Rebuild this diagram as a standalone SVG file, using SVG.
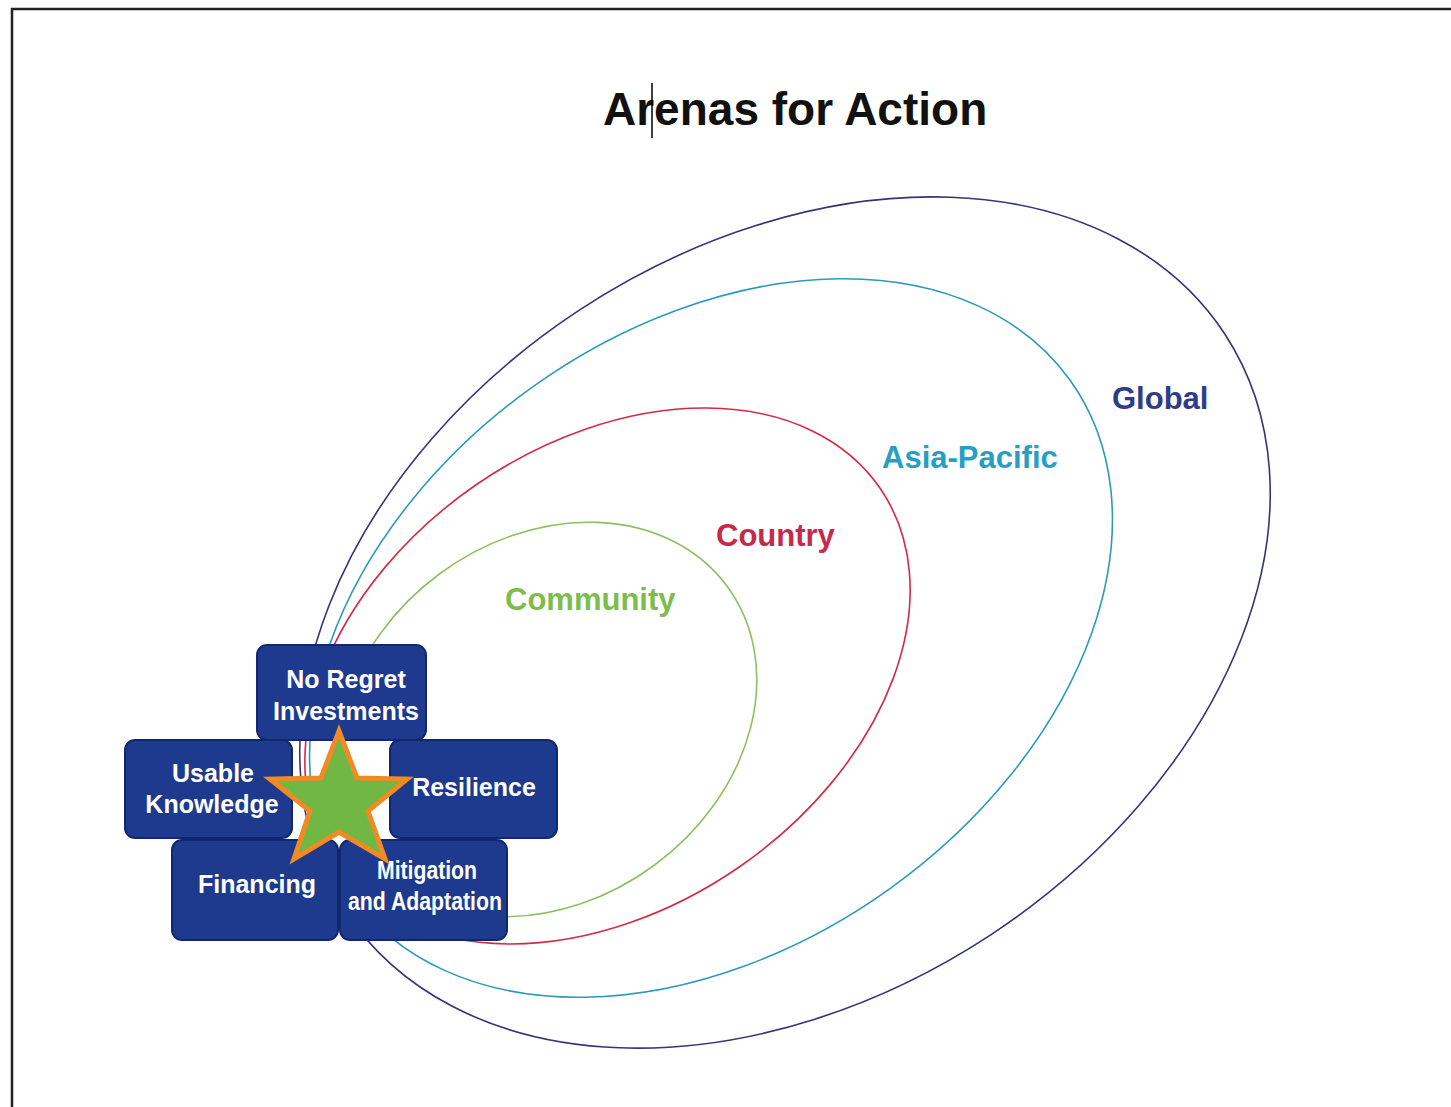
<svg xmlns="http://www.w3.org/2000/svg" width="1451" height="1107" viewBox="0 0 1451 1107">
  <style>
    .frame { fill: none; stroke: #222; stroke-width: 2.5; }
    .title { font-family: "Liberation Sans", Arial, sans-serif; font-weight: bold; font-size: 46px; fill: #111; }
    .arena { fill: none; stroke-width: 1.6; }
    .lbl { font-family: "Liberation Sans", Arial, sans-serif; font-weight: bold; font-size: 31px; }
    .box { fill: #1d3a8e; stroke: #12286e; stroke-width: 2; }
    .btxt { font-family: "Liberation Sans", Arial, sans-serif; font-weight: bold; font-size: 25px; fill: #fff; text-anchor: middle; }
    .star { fill: #70b843; stroke: #f08a24; stroke-width: 5; stroke-linejoin: miter; }
  </style>

  <rect width="1451" height="1107" fill="#fff"/>
  <rect class="frame" x="12" y="9" width="1500" height="1200"/>

  <!-- heading with caret -->
  <text class="title" x="603" y="125">Arenas for Action</text>
  <line x1="652" y1="83" x2="652" y2="138" stroke="#000" stroke-width="1.5"/>

  <!-- nested arenas -->
  <g id="arenas">
    <g id="global">
      <ellipse class="arena" stroke="#34347c" cx="785" cy="622.5" rx="526" ry="374" transform="rotate(-33.3 785 622.5)"/>
      <text class="lbl" fill="#2e3c8a" x="1112" y="409">Global</text>
    </g>
    <g id="asia-pacific">
      <ellipse class="arena" stroke="#2a9cb8" cx="711" cy="638" rx="442" ry="308" transform="rotate(-35.7 711 638)"/>
      <text class="lbl" fill="#279fc2" x="882" y="468">Asia-Pacific</text>
    </g>
    <g id="country">
      <ellipse class="arena" stroke="#d42a44" cx="607.5" cy="676" rx="331" ry="232" transform="rotate(-34.6 607.5 676)"/>
      <text class="lbl" fill="#c62a4a" x="716" y="546">Country</text>
    </g>
    <g id="community">
      <ellipse class="arena" stroke="#8cc063" cx="547" cy="719.5" rx="224" ry="181" transform="rotate(-36.5 547 719.5)"/>
      <text class="lbl" fill="#7dbd4c" x="505" y="610">Community</text>
    </g>
  </g>

  <!-- building blocks -->
  <g id="no-regret">
    <rect class="box" x="257" y="645" width="169" height="95" rx="10"/>
    <text class="btxt" x="346" y="688">No Regret</text>
    <text class="btxt" x="346" y="720">Investments</text>
  </g>
  <g id="usable-knowledge">
    <rect class="box" x="125" y="740" width="167" height="98" rx="10"/>
    <text class="btxt" x="213" y="782">Usable</text>
    <text class="btxt" x="212" y="813">Knowledge</text>
  </g>
  <g id="resilience">
    <rect class="box" x="390" y="740" width="167" height="98" rx="10"/>
    <text class="btxt" x="474" y="796">Resilience</text>
  </g>
  <g id="financing">
    <rect class="box" x="172" y="840" width="166" height="100" rx="10"/>
    <text class="btxt" x="257" y="893">Financing</text>
  </g>
  <g id="mitigation-adaptation">
    <rect class="box" x="340" y="840" width="167" height="100" rx="10"/>
    <text class="btxt" x="427" y="879" textLength="100" lengthAdjust="spacingAndGlyphs">Mitigation</text>
    <text class="btxt" x="425" y="910" textLength="154" lengthAdjust="spacingAndGlyphs">and Adaptation</text>
  </g>

  <g id="star">
    <path class="star" d="M339,731 L357,778 L407,779 L368,811 L385,859 L339,832 L294,859 L310,811 L270,779 L321,778 Z"/>
  </g>
</svg>
